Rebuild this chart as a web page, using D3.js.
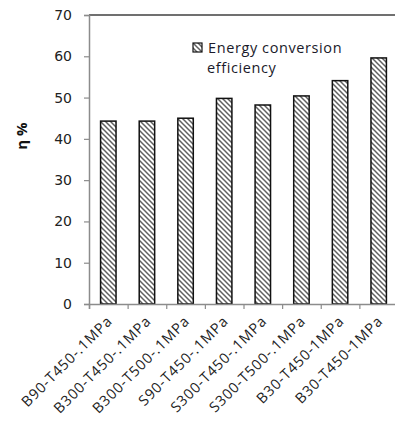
<!DOCTYPE html>
<html>
<head>
<meta charset="utf-8">
<script src="https://cdn.jsdelivr.net/npm/d3@7"></script>
<style>
  body { margin: 0; background: #fff; }
  svg { display: block; }
</style>
</head>
<body>
<div id="chart"></div>
<script>
// Chart data
var categories = ["B90-T450-.1MPa", "B300-T450-.1MPa", "B300-T500-.1MPa", "S90-T450-.1MPa",
                  "S300-T450-.1MPa", "S300-T500-.1MPa", "B30-T450-1MPa", "B30-T450-1MPa"];
var efficiency = [44.3, 44.3, 45.0, 49.8, 48.2, 50.4, 54.1, 59.6];
var yTicks = [0, 10, 20, 30, 40, 50, 60, 70];
var seriesName = ["Energy conversion", "efficiency"];
var yTitle = "η %";

// SVG area
var svgWidth = 395;
var svgHeight = 421;

var chartMargin = { top: 15, right: -3, bottom: 117, left: 89 };
var chartWidth = svgWidth - chartMargin.left - chartMargin.right;
var chartHeight = svgHeight - chartMargin.top - chartMargin.bottom;

var svg = d3.select("#chart")
  .append("svg")
  .attr("width", svgWidth)
  .attr("height", svgHeight);

// hatch pattern for the bars
var defs = svg.append("defs");
defs.append("pattern")
    .attr("id", "hatch")
    .attr("patternUnits", "userSpaceOnUse")
    .attr("width", 5)
    .attr("height", 5)
  .append("path")
    .attr("d", "M0,0 L5,5 M-1,4 L1,6 M4,-1 L6,1")
    .attr("stroke", "#606060")
    .attr("stroke-width", 1.5);

var chartGroup = svg.append("g")
    .attr("transform", `translate(${chartMargin.left}, ${chartMargin.top})`);

// scales
var xBandScale = d3.scaleBand()
  .domain(d3.range(categories.length))
  .range([0, chartWidth])
  .paddingInner(0.6)
  .paddingOuter(0.3);

var yLinearScale = d3.scaleLinear()
  .domain([0, 70])
  .range([chartHeight, 0]);

// top border of plot area
chartGroup.append("line")
    .attr("x1", 0).attr("x2", chartWidth)
    .attr("y1", 0).attr("y2", 0)
    .attr("stroke", "#404040")
    .attr("stroke-width", 1.5);

// bars
chartGroup.selectAll("rect.bar")
    .data(efficiency)
    .enter()
    .append("rect")
    .attr("class", "bar")
    .attr("x", (d, i) => xBandScale(i))
    .attr("y", d => yLinearScale(d))
    .attr("width", xBandScale.bandwidth())
    .attr("height", d => chartHeight - yLinearScale(d))
    .attr("fill", "url(#hatch)")
    .attr("stroke", "#111")
    .attr("stroke-width", 1.5);

// left axis
var leftAxis = d3.axisLeft(yLinearScale)
    .tickValues(yTicks)
    .tickSize(5)
    .tickPadding(12);

var yAxisG = chartGroup.append("g").call(leftAxis);
yAxisG.select(".domain").attr("stroke", "#8c8c8c").attr("stroke-width", 1.5);
yAxisG.selectAll(".tick line").attr("stroke", "#8c8c8c").attr("stroke-width", 1.2);
yAxisG.selectAll("text")
    .attr("font-family", "DejaVu Sans, Verdana, sans-serif")
    .attr("font-size", 14)
    .attr("fill", "#222");

// bottom axis: ticks at category boundaries
var boundaryScale = d3.scaleLinear()
  .domain([0, categories.length])
  .range([0, chartWidth]);

var bottomAxis = d3.axisBottom(boundaryScale)
    .tickValues(d3.range(categories.length + 1))
    .tickSize(5)
    .tickFormat("");

var xAxisG = chartGroup.append("g")
    .attr("transform", `translate(0, ${chartHeight})`)
    .call(bottomAxis);
xAxisG.select(".domain").attr("stroke", "#8c8c8c").attr("stroke-width", 1.5);
xAxisG.selectAll(".tick line").attr("stroke", "#8c8c8c").attr("stroke-width", 1.2);

// category labels, rotated
chartGroup.selectAll("text.xlabel")
    .data(categories)
    .enter()
    .append("text")
    .attr("class", "xlabel")
    .attr("transform", (d, i) => `translate(${xBandScale(i) + xBandScale.bandwidth() / 2 + 5}, ${chartHeight + 18}) rotate(-45)`)
    .attr("text-anchor", "end")
    .attr("font-family", "Open Sans, sans-serif")
    .attr("font-size", 14.5)
    .attr("letter-spacing", 0.8)
    .attr("fill", "#222")
    .text(d => d);

// y axis title
chartGroup.append("text")
    .attr("transform", "rotate(-90)")
    .attr("x", 0 - 121)
    .attr("y", 0 - chartMargin.left + 27)
    .attr("text-anchor", "middle")
    .attr("font-family", "Open Sans, sans-serif")
    .attr("font-weight", "bold")
    .attr("font-size", 15)
    .attr("fill", "#111")
    .text(yTitle);

// legend
var legend = chartGroup.append("g")
    .attr("transform", `translate(${193 - chartMargin.left}, ${43 - chartMargin.top})`);

legend.append("rect")
    .attr("width", 9)
    .attr("height", 9)
    .attr("fill", "url(#hatch)")
    .attr("stroke", "#111")
    .attr("stroke-width", 1.2);

legend.selectAll("text")
    .data(seriesName)
    .enter()
    .append("text")
    .attr("x", (d, i) => i === 0 ? 15 : 14)
    .attr("y", (d, i) => 10 + i * 20)
    .attr("font-family", "Open Sans, sans-serif")
    .attr("font-size", 14.5)
    .attr("letter-spacing", 0.6)
    .attr("fill", "#1a1a2a")
    .text(d => d);
</script>
</body>
</html>
